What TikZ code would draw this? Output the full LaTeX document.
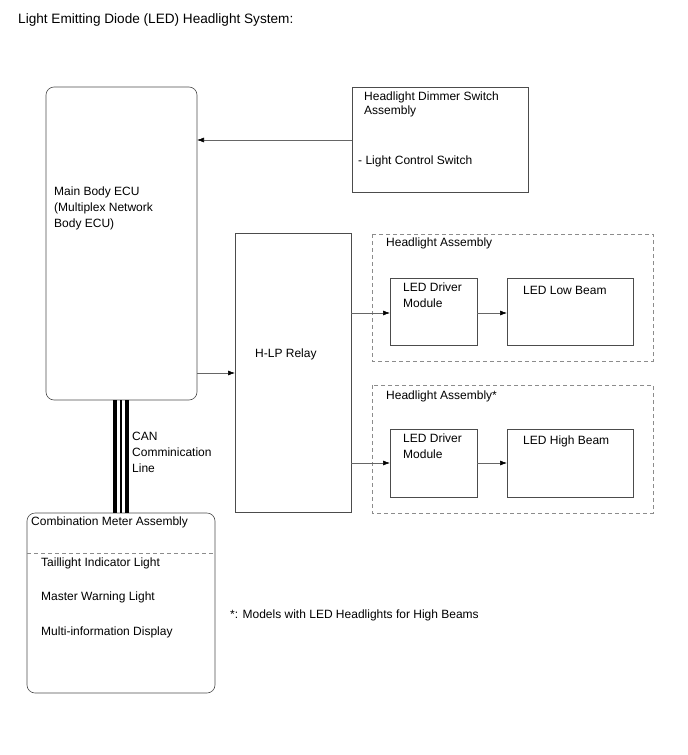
\documentclass[tikz,border=0pt]{standalone}
\usepackage{fontspec}
\setmainfont{Liberation Sans}
\usetikzlibrary{arrows.meta}
\begin{document}
\begin{tikzpicture}[x=1pt,y=-1pt,
  txt/.style={inner sep=0pt,anchor=west,font=\fontsize{12}{16}\selectfont,align=left},
  box/.style={draw=black!70,line width=0.6pt},
  rbox/.style={draw=black!70,line width=0.6pt,rounded corners=8pt},
  dbox/.style={draw=black!45,line width=0.6pt,dash pattern=on 4pt off 3pt},
  conn/.style={draw=black!60,line width=0.6pt,-{Latex[length=7pt,width=5pt,black]}}]
\useasboundingbox (0,0) rectangle (688,755);
\node[txt,font=\fontsize{13.6}{16}\selectfont] (title) at (18,20) {Light Emitting Diode (LED) Headlight System:};
% boxes
\draw[rbox] (46,87) rectangle (197,400);
\coordinate (ecuR1) at (197,140);
\coordinate (ecuR2) at (197,373);
\node[txt] (ecut) at (54,208) {Main Body ECU\\(Multiplex Network\\Body ECU)};
\draw[box] (352,87) rectangle (528,192);
\coordinate (dimL) at (352,140);
\node[txt,font=\fontsize{12}{14}\selectfont] (dimt) at (364,104) {Headlight Dimmer Switch\\Assembly};
\node[txt] (dimt2) at (358,161) {- Light Control Switch};
\draw[box] (235,233) rectangle (351,512);
\coordinate (relL) at (235,373);
\coordinate (relR1) at (351,313);
\coordinate (relR2) at (351,463);
\node[txt] (relt) at (255,354) {H-LP Relay};
\draw[dbox] (372,234) rectangle (653,361);
\node[txt] (ha1) at (386,243) {Headlight Assembly};
\draw[box] (390,278) rectangle (477,345);
\node[txt] (d1t) at (403,295) {LED Driver\\Module};
\draw[box] (507,278) rectangle (633,345);
\node[txt] (lb) at (523,290) {LED Low Beam};
\draw[dbox] (372,385) rectangle (653,513);
\node[txt] (ha2) at (386,396) {Headlight Assembly*};
\draw[box] (390,429) rectangle (477,497);
\node[txt] (d2t) at (403,446) {LED Driver\\Module};
\draw[box] (507,429) rectangle (633,497);
\node[txt] (hb) at (523,441) {LED High Beam};
% meter
\draw[rbox] (27,513) rectangle (215,693);
\draw[dbox] (27,553) -- (215,553);
\node[txt] (cm) at (31,522) {Combination Meter Assembly};
\node[txt] (m1) at (41,563) {Taillight Indicator Light};
\node[txt] (m2) at (41,597) {Master Warning Light};
\node[txt] (m3) at (41,632) {Multi-information Display};
\node[txt] (note) at (230,615) {*: Models with LED Headlights for High Beams};
% CAN
\draw[line width=4pt] (115,400) -- (115,513);
\draw[line width=1.8pt] (121,400) -- (121,513);
\draw[line width=4pt] (127,400) -- (127,513);
\node[txt] (can) at (132,452) {CAN\\Comminication\\Line};
% connectors
\draw[conn] (dimL) -- (ecuR1);
\draw[conn] (ecuR2) -- (relL);
\draw[conn] (relR1) -- (390,313);
\draw[conn] (477,313) -- (507,313);
\draw[conn] (relR2) -- (390,463);
\draw[conn] (477,463) -- (507,463);
\end{tikzpicture}
\end{document}
